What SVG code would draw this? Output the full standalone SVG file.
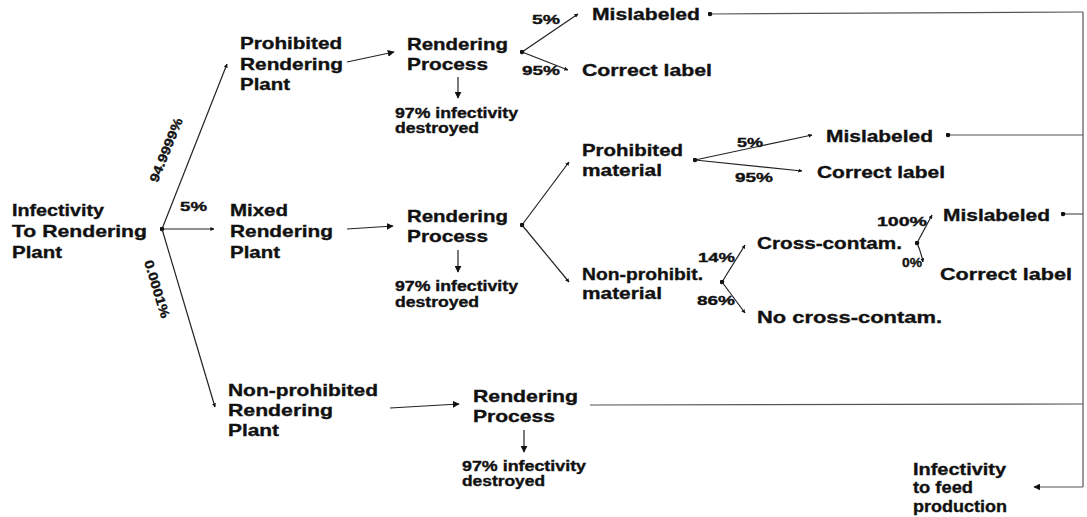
<svg xmlns="http://www.w3.org/2000/svg" width="1087" height="517" viewBox="0 0 1087 517">
<style>
.t{font-family:"Liberation Sans",Arial,sans-serif;font-weight:bold;font-size:17px;fill:#111;stroke:#111;stroke-width:0.35}
.s{font-size:14px}
.p{font-size:13px}
.c{stroke:#222;stroke-width:1.2;fill:none}
.g{stroke:#555;stroke-width:1.2;fill:none}
</style>
<defs>
<marker id="arr" viewBox="0 0 10 10" refX="9" refY="5" markerWidth="7" markerHeight="7" markerUnits="userSpaceOnUse" orient="auto"><path d="M0,0 L10,5 L0,10 z" fill="#111"/></marker>
<marker id="tip" viewBox="0 0 10 10" refX="9" refY="5" markerWidth="4" markerHeight="4" markerUnits="userSpaceOnUse" orient="auto"><path d="M0,0 L10,5 L0,10 z" fill="#111"/></marker>
<marker id="dot" viewBox="0 0 10 10" refX="5" refY="5" markerWidth="5" markerHeight="5" markerUnits="userSpaceOnUse"><circle cx="5" cy="5" r="4.5" fill="#111"/></marker>
</defs>
<rect width="1087" height="517" fill="#fff"/>

<g id="connectors">
  <path class="c" d="M162,229 L227,64" marker-start="url(#dot)" marker-end="url(#tip)"/>
  <path class="c" d="M162,229 L214,229" marker-end="url(#tip)"/>
  <path class="c" d="M162,229 L215,407" marker-end="url(#tip)"/>
  <path class="c" d="M347,62 L394,52" marker-end="url(#arr)"/>
  <path class="c" d="M347,229 L393,226" marker-end="url(#arr)"/>
  <path class="c" d="M390,408 L459,404" marker-end="url(#arr)"/>
  <path class="c" d="M458,77 L458,98" marker-end="url(#arr)"/>
  <path class="c" d="M458,250 L458,272" marker-end="url(#arr)"/>
  <path class="c" d="M524,430 L524,452" marker-end="url(#arr)"/>
  <path class="c" d="M522,52 L578,14" marker-start="url(#dot)" marker-end="url(#tip)"/>
  <path class="c" d="M522,52 L568,70" marker-end="url(#tip)"/>
  <path class="c" d="M522,225 L569,162" marker-start="url(#dot)" marker-end="url(#tip)"/>
  <path class="c" d="M522,225 L569,282" marker-end="url(#tip)"/>
  <path class="c" d="M695,160 L812,135" marker-start="url(#dot)" marker-end="url(#tip)"/>
  <path class="c" d="M695,160 L802,171" marker-end="url(#tip)"/>
  <path class="c" d="M722,282 L745,245" marker-start="url(#dot)" marker-end="url(#tip)"/>
  <path class="c" d="M722,282 L745,313" marker-end="url(#tip)"/>
  <path class="c" d="M917,243 L932,215" marker-start="url(#dot)" marker-end="url(#tip)"/>
  <path class="c" d="M917,243 Q921,252 923,262" marker-end="url(#tip)"/>
  <path class="g" d="M710,14 L1083,12" marker-start="url(#dot)"/>
  <path class="g" d="M948,135 L1083,135" marker-start="url(#dot)"/>
  <path class="g" d="M1063,214 L1083,214" marker-start="url(#dot)"/>
  <path class="g" d="M590,405 L1083,404"/>
  <path class="g" d="M1083,12 L1083,487"/>
  <path class="g" d="M1083,487 L1034,487" marker-end="url(#arr)"/>
</g>

<g id="n-infectivity-rendering">
  <text class="t" x="12" y="216" textLength="92" lengthAdjust="spacingAndGlyphs">Infectivity</text>
  <text class="t" x="12" y="237" textLength="135" lengthAdjust="spacingAndGlyphs">To Rendering</text>
  <text class="t" x="12" y="258" textLength="50" lengthAdjust="spacingAndGlyphs">Plant</text>
</g>
<g id="l-root">
  <text class="t p" text-anchor="middle" transform="translate(166,150) rotate(-68)" y="4.5" textLength="68" lengthAdjust="spacingAndGlyphs">94.9999%</text>
  <text class="t p" x="180" y="211" textLength="27" lengthAdjust="spacingAndGlyphs">5%</text>
  <text class="t p" text-anchor="middle" transform="translate(157,289) rotate(73)" y="4.5" textLength="60" lengthAdjust="spacingAndGlyphs">0.0001%</text>
</g>
<g id="n-prohibited-plant">
  <text class="t" x="240" y="49" textLength="102" lengthAdjust="spacingAndGlyphs">Prohibited</text>
  <text class="t" x="240" y="70" textLength="103" lengthAdjust="spacingAndGlyphs">Rendering</text>
  <text class="t" x="240" y="90" textLength="50" lengthAdjust="spacingAndGlyphs">Plant</text>
</g>
<g id="n-mixed-plant">
  <text class="t" x="230" y="216" textLength="58" lengthAdjust="spacingAndGlyphs">Mixed</text>
  <text class="t" x="230" y="237" textLength="103" lengthAdjust="spacingAndGlyphs">Rendering</text>
  <text class="t" x="230" y="258" textLength="50" lengthAdjust="spacingAndGlyphs">Plant</text>
</g>
<g id="n-nonprohibited-plant">
  <text class="t" x="228" y="396" textLength="150" lengthAdjust="spacingAndGlyphs">Non-prohibited</text>
  <text class="t" x="228" y="416" textLength="105" lengthAdjust="spacingAndGlyphs">Rendering</text>
  <text class="t" x="228" y="436" textLength="51" lengthAdjust="spacingAndGlyphs">Plant</text>
</g>
<g id="n-rp1">
  <text class="t" x="407" y="50" textLength="101" lengthAdjust="spacingAndGlyphs">Rendering</text>
  <text class="t" x="407" y="70" textLength="81" lengthAdjust="spacingAndGlyphs">Process</text>
</g>
<g id="n-rp1-destroyed">
  <text class="t s" x="395" y="117.5" textLength="123" lengthAdjust="spacingAndGlyphs">97% infectivity</text>
  <text class="t s" x="395" y="133" textLength="84" lengthAdjust="spacingAndGlyphs">destroyed</text>
</g>
<g id="n-rp2">
  <text class="t" x="407" y="222" textLength="101" lengthAdjust="spacingAndGlyphs">Rendering</text>
  <text class="t" x="407" y="242" textLength="81" lengthAdjust="spacingAndGlyphs">Process</text>
</g>
<g id="n-rp2-destroyed">
  <text class="t s" x="395" y="291" textLength="123" lengthAdjust="spacingAndGlyphs">97% infectivity</text>
  <text class="t s" x="395" y="307" textLength="84" lengthAdjust="spacingAndGlyphs">destroyed</text>
</g>
<g id="n-rp3">
  <text class="t" x="473" y="402" textLength="105" lengthAdjust="spacingAndGlyphs">Rendering</text>
  <text class="t" x="473" y="422" textLength="82" lengthAdjust="spacingAndGlyphs">Process</text>
</g>
<g id="n-rp3-destroyed">
  <text class="t s" x="462" y="471" textLength="124" lengthAdjust="spacingAndGlyphs">97% infectivity</text>
  <text class="t s" x="462" y="486" textLength="83" lengthAdjust="spacingAndGlyphs">destroyed</text>
</g>
<g id="n-mislabeled1">
  <text class="t" x="592" y="19.5" textLength="108" lengthAdjust="spacingAndGlyphs">Mislabeled</text>
</g>
<g id="n-correct1">
  <text class="t" x="582" y="75.5" textLength="130" lengthAdjust="spacingAndGlyphs">Correct label</text>
</g>
<g id="l-rp1">
  <text class="t p" x="532" y="23.5" textLength="28" lengthAdjust="spacingAndGlyphs">5%</text>
  <text class="t p" x="522" y="74.5" textLength="38" lengthAdjust="spacingAndGlyphs">95%</text>
</g>
<g id="n-prohibited-material">
  <text class="t" x="582" y="156" textLength="101" lengthAdjust="spacingAndGlyphs">Prohibited</text>
  <text class="t" x="582" y="176" textLength="80" lengthAdjust="spacingAndGlyphs">material</text>
</g>
<g id="n-nonprohibit-material">
  <text class="t" x="582" y="279.5" textLength="121" lengthAdjust="spacingAndGlyphs">Non-prohibit.</text>
  <text class="t" x="582" y="299" textLength="80" lengthAdjust="spacingAndGlyphs">material</text>
</g>
<g id="l-pm">
  <text class="t p" x="737" y="147" textLength="26" lengthAdjust="spacingAndGlyphs">5%</text>
  <text class="t p" x="735" y="182" textLength="38" lengthAdjust="spacingAndGlyphs">95%</text>
</g>
<g id="n-mislabeled2">
  <text class="t" x="826" y="142" textLength="107" lengthAdjust="spacingAndGlyphs">Mislabeled</text>
</g>
<g id="n-correct2">
  <text class="t" x="817" y="178" textLength="128" lengthAdjust="spacingAndGlyphs">Correct label</text>
</g>
<g id="l-np">
  <text class="t p" x="698" y="262" textLength="37" lengthAdjust="spacingAndGlyphs">14%</text>
  <text class="t p" x="697" y="305" textLength="38" lengthAdjust="spacingAndGlyphs">86%</text>
</g>
<g id="n-cross">
  <text class="t" x="757" y="249" textLength="145" lengthAdjust="spacingAndGlyphs">Cross-contam.</text>
</g>
<g id="n-nocross">
  <text class="t" x="757" y="323" textLength="185" lengthAdjust="spacingAndGlyphs">No cross-contam.</text>
</g>
<g id="l-cc">
  <text class="t p" x="877" y="226" textLength="50" lengthAdjust="spacingAndGlyphs">100%</text>
  <text class="t p" x="902" y="267" textLength="20" lengthAdjust="spacingAndGlyphs">0%</text>
</g>
<g id="n-mislabeled3">
  <text class="t" x="943" y="220.5" textLength="107" lengthAdjust="spacingAndGlyphs">Mislabeled</text>
</g>
<g id="n-correct3">
  <text class="t" x="940" y="280" textLength="132" lengthAdjust="spacingAndGlyphs">Correct label</text>
</g>
<g id="n-feed">
  <text class="t" x="913" y="475" textLength="93" lengthAdjust="spacingAndGlyphs">Infectivity</text>
  <text class="t" x="913" y="493" textLength="60" lengthAdjust="spacingAndGlyphs">to feed</text>
  <text class="t" x="913" y="512" textLength="94" lengthAdjust="spacingAndGlyphs">production</text>
</g>
</svg>
